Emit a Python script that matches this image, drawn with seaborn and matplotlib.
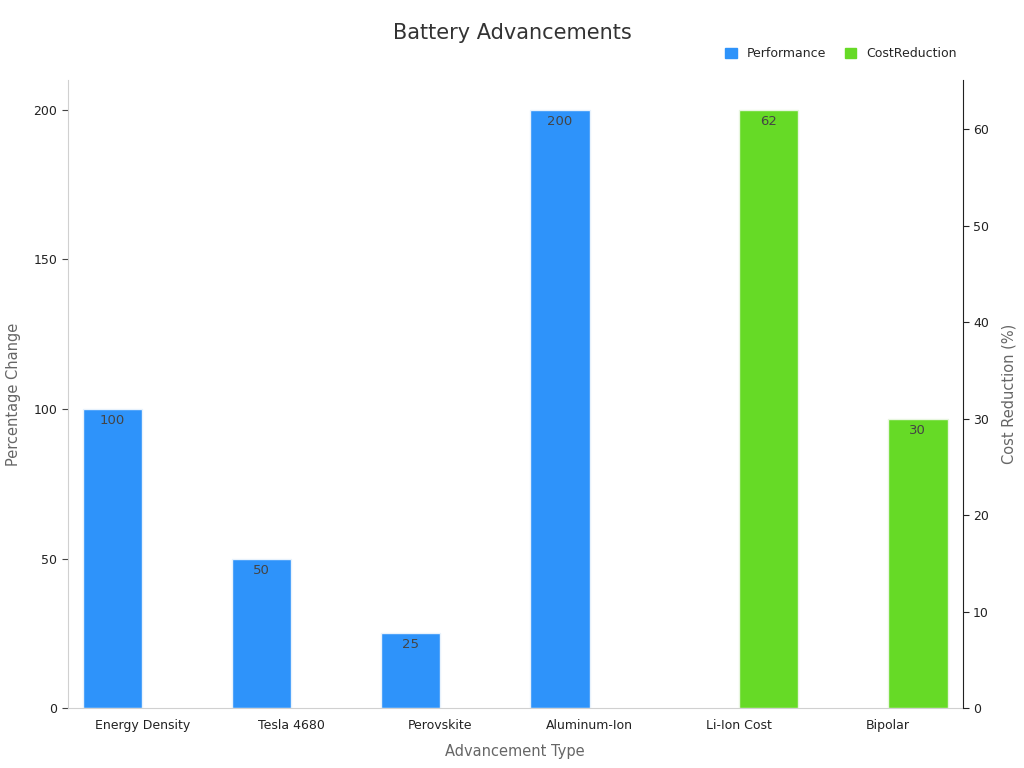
import pandas as pd
import seaborn as sns
from matplotlib import pyplot as plt
from matplotlib.patches import Patch

# Datos del gráfico
categorias = ['Energy Density', 'Tesla 4680', 'Perovskite', 'Aluminum-Ion', 'Li-Ion Cost', 'Bipolar']
performance_cats = ['Energy Density', 'Tesla 4680', 'Perovskite', 'Aluminum-Ion']
performance_vals = [100, 50, 25, 200]
costo_cats = ['Li-Ion Cost', 'Bipolar']
costo_vals = [62, 30]
series = ['Performance', 'CostReduction']
colores = {'Performance': '#2E93FA', 'CostReduction': '#66DA26'}

df_perf = pd.DataFrame({'tipo': performance_cats, 'serie': 'Performance', 'valor': performance_vals})
df_cost = pd.DataFrame({'tipo': costo_cats, 'serie': 'CostReduction', 'valor': costo_vals})

sns.set_style('white')
fig = plt.figure(figsize=(10.24, 7.68), dpi=100)
ax = fig.add_axes([0.066, 0.078, 0.874, 0.818])
ax2 = ax.twinx()

sns.barplot(data=df_perf, x='tipo', y='valor', hue='serie', order=categorias, hue_order=series,
            palette=colores, saturation=1, dodge=True, width=0.8, edgecolor='#e8f2fc', linewidth=1,
            ax=ax, legend=False)
sns.barplot(data=df_cost, x='tipo', y='valor', hue='serie', order=categorias, hue_order=series,
            palette=colores, saturation=1, dodge=True, width=0.8, edgecolor='#e8f6e0', linewidth=1,
            ax=ax2, legend=False)

for a in (ax, ax2):
    for c in a.containers:
        a.bar_label(c, fmt='%.0f', padding=-13, fontsize=9.5, color='#444444')

ax.set_xlim(-0.5, 5.5)
ax.set_ylim(0, 210)
ax2.set_ylim(0, 65.1)
ax.set_yticks([0, 50, 100, 150, 200])
ax2.set_yticks([0, 10, 20, 30, 40, 50, 60])

ax.set_xlabel('Advancement Type', fontsize=10.5, color='#666666', labelpad=9)
ax.set_ylabel('Percentage Change', fontsize=10.5, color='#666666', labelpad=9)
ax2.set_ylabel('Cost Reduction (%)', fontsize=10.5, color='#666666', labelpad=9)

for a in (ax, ax2):
    a.tick_params(axis='both', labelsize=9, colors='#222222', length=4, width=0.8)
    a.spines['top'].set_visible(False)
ax.spines['left'].set_color('#d0d0d0')
ax.spines['bottom'].set_color('#d0d0d0')
ax.spines['right'].set_visible(False)
ax2.spines['left'].set_visible(False)
ax2.spines['bottom'].set_visible(False)
ax2.spines['right'].set_color('#222222')
ax.tick_params(axis='y', colors='#222222', color='#444444')
ax.tick_params(axis='x', length=4, color='#444444')

fig.suptitle('Battery Advancements', fontsize=15, color='#333333', y=0.97)
handles = [Patch(color=colores[s], label=s) for s in series]
fig.legend(handles=handles, loc='center right', bbox_to_anchor=(0.945, 0.93), ncol=2, frameon=False,
           fontsize=9, handlelength=0.9, handleheight=0.9, columnspacing=1.5)

plt.savefig('out.png', dpi=100)
